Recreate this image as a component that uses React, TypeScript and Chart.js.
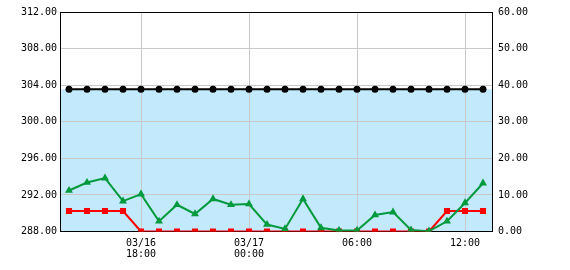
import React, { useEffect, useRef } from 'react';
import { Chart, registerables } from 'chart.js';

Chart.register(...registerables);

const HOURS = [
  '14:00', '15:00', '16:00', '17:00', '18:00', '19:00', '20:00', '21:00',
  '22:00', '23:00', '00:00', '01:00', '02:00', '03:00', '04:00', '05:00',
  '06:00', '07:00', '08:00', '09:00', '10:00', '11:00', '12:00', '13:00',
];

const TICK_LABELS: Record<string, string[]> = {
  '18:00': ['03/16', '18:00'],
  '00:00': ['03/17', '00:00'],
  '06:00': ['06:00'],
  '12:00': ['12:00'],
};

const LEFT_TICKS = { min: 288, max: 312, step: 4 };
const RIGHT_TICKS = { min: 0, max: 60, step: 10 };

const BAND_LEVEL = 303.55;

const BLACK = [
  303.55, 303.55, 303.55, 303.55, 303.55, 303.55, 303.55, 303.55,
  303.55, 303.55, 303.55, 303.55, 303.55, 303.55, 303.55, 303.55,
  303.55, 303.55, 303.55, 303.55, 303.55, 303.55, 303.55, 303.55,
];

const RED = [
  5.6, 5.6, 5.6, 5.6, 0, 0, 0, 0,
  0, 0, 0, 0, 0, 0, 0, 0,
  0, 0, 0, 0, 0, 5.6, 5.6, 5.6,
];

const GREEN = [
  11.2, 13.4, 14.6, 8.3, 10.2, 2.8, 7.3, 4.8,
  8.9, 7.3, 7.5, 1.9, 0.7, 8.9, 1.0, 0.3,
  0.3, 4.5, 5.3, 0.4, 0.1, 2.8, 7.8, 13.2,
];

const FONT = { family: '"DejaVu Sans Mono", monospace', size: 10 };

const bandPlugin = {
  id: 'band',
  beforeDraw(chart: any) {
    const { ctx, chartArea } = chart;
    const y = chart.scales.y.getPixelForValue(BAND_LEVEL);
    ctx.save();
    ctx.fillStyle = '#c2e9fc';
    ctx.fillRect(chartArea.left, y, chartArea.right - chartArea.left, chartArea.bottom - y);
    ctx.restore();
  },
  afterDraw(chart: any) {
    const { ctx, chartArea } = chart;
    ctx.save();
    ctx.strokeStyle = '#000';
    ctx.lineWidth = 1;
    ctx.beginPath();
    const t = Math.round(chartArea.top) + 0.5;
    ctx.moveTo(chartArea.left, t);
    ctx.lineTo(chartArea.right, t);
    ctx.stroke();
    ctx.restore();
  },
};

export default function App() {
  const ref = useRef<HTMLCanvasElement>(null);

  useEffect(() => {
    if (!ref.current) return;
    const chart = new Chart(ref.current, {
      type: 'line',
      data: {
        labels: HOURS,
        datasets: [
          {
            data: GREEN,
            yAxisID: 'y1',
            borderColor: '#00993c',
            backgroundColor: '#00993c',
            borderWidth: 2,
            pointStyle: 'triangle',
            pointRadius: 4.6,
            pointBorderWidth: 0,
            tension: 0,
            clip: 0,
            order: 1,
          },
          {
            data: RED,
            yAxisID: 'y1',
            borderColor: '#ff0000',
            backgroundColor: '#ff0000',
            borderWidth: 2,
            pointStyle: 'rect',
            pointRadius: 4.3,
            pointBorderWidth: 0,
            tension: 0,
            clip: 0,
            order: 2,
          },
          {
            data: BLACK,
            yAxisID: 'y',
            borderColor: '#000000',
            backgroundColor: '#000000',
            borderWidth: 2,
            pointStyle: 'circle',
            pointRadius: 3.5,
            pointBorderWidth: 0,
            tension: 0,
            order: 3,
          },
        ],
      },
      options: {
        animation: false,
        responsive: false,
        devicePixelRatio: 1,
        layout: { padding: { top: 10, left: 0, right: 0, bottom: 0 } },
        plugins: {
          legend: { display: false },
          tooltip: { enabled: false },
          title: { display: false },
        },
        scales: {
          x: {
            type: 'category',
            offset: true,
            afterFit: (s: any) => { s.height = 38.5; },
            grid: {
              offset: false,
              drawTicks: false,
              color: (c: any) => (TICK_LABELS[HOURS[c.index]] ? '#c8c8c8' : 'rgba(0,0,0,0)'),
              lineWidth: 1,
            },
            border: { display: true, color: '#000', width: 1 },
            ticks: {
              autoSkip: false,
              maxRotation: 0,
              minRotation: 0,
              padding: 6,
              color: '#000',
              font: { ...FONT, lineHeight: 1.15 },
              callback: (_v: any, i: number) => TICK_LABELS[HOURS[i]] || '',
            },
          },
          y: {
            position: 'left',
            min: LEFT_TICKS.min,
            max: LEFT_TICKS.max,
            afterFit: (s: any) => { s.width = 60; },
            grid: { color: '#c8c8c8', drawTicks: false, lineWidth: 1 },
            border: { display: true, color: '#000', width: 1 },
            ticks: {
              stepSize: LEFT_TICKS.step,
              padding: 3,
              color: '#000',
              font: FONT,
              callback: (v: any) => Number(v).toFixed(2),
            },
          },
          y1: {
            position: 'right',
            min: RIGHT_TICKS.min,
            max: RIGHT_TICKS.max,
            afterFit: (s: any) => { s.width = 78; },
            grid: { display: false, drawTicks: false },
            border: { display: true, color: '#000', width: 1 },
            ticks: {
              stepSize: RIGHT_TICKS.step,
              padding: 6,
              color: '#000',
              font: FONT,
              callback: (v: any) => Number(v).toFixed(2),
            },
          },
        },
      },
      plugins: [bandPlugin],
    });
    return () => chart.destroy();
  }, []);

  return (
    <div style={{ position: 'absolute', left: 0, top: 0, width: 570, height: 270, background: '#fff' }}>
      <canvas ref={ref} width={570} height={270} style={{ display: 'block' }} />
    </div>
  );
}
